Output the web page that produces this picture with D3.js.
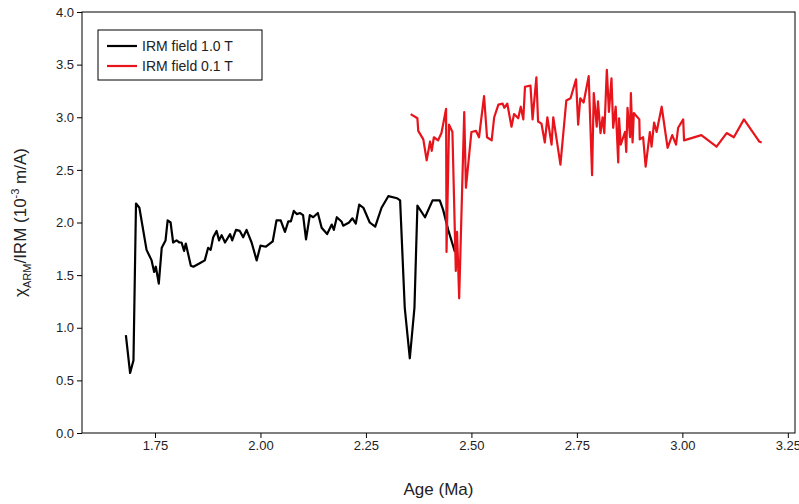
<!DOCTYPE html>
<html><head><meta charset="utf-8">
<script src="https://cdn.jsdelivr.net/npm/d3@7"></script>
<style>body{margin:0;background:#fff;font-family:"Liberation Sans",Arial,sans-serif}</style>
</head><body><svg id="c" width="799" height="504"></svg>
<script>
// black series: IRM field 1.0 T
var ageHigh = [1.681,1.691,1.699,1.705,1.713,1.730,1.742,1.748,1.752,1.759,1.766,1.775,1.780,1.787,1.793,1.801,1.808,1.813,1.819,1.823,1.835,1.841,1.855,1.868,1.876,1.882,1.888,1.896,1.902,1.908,1.916,1.928,1.933,1.942,1.951,1.959,1.967,1.979,1.991,2.000,2.013,2.029,2.038,2.048,2.058,2.066,2.072,2.079,2.086,2.094,2.101,2.108,2.117,2.125,2.136,2.145,2.158,2.169,2.174,2.181,2.192,2.196,2.210,2.218,2.226,2.234,2.244,2.259,2.272,2.287,2.303,2.324,2.331,2.342,2.354,2.365,2.372,2.390,2.408,2.425,2.433,2.445,2.461];
var valHigh = [0.93,0.57,0.69,2.18,2.14,1.74,1.64,1.53,1.58,1.42,1.76,1.83,2.02,2.00,1.81,1.83,1.81,1.81,1.73,1.80,1.59,1.58,1.61,1.64,1.76,1.74,1.86,1.92,1.83,1.88,1.81,1.89,1.83,1.93,1.92,1.86,1.93,1.81,1.64,1.78,1.77,1.82,2.02,2.02,1.91,2.01,2.01,2.11,2.08,2.09,2.07,1.84,2.07,2.05,2.09,1.95,1.89,1.98,1.93,2.05,2.01,1.97,2.00,2.04,1.99,2.17,2.14,2.00,1.96,2.14,2.25,2.23,2.21,1.19,0.71,1.19,2.16,2.05,2.21,2.21,2.12,1.93,1.72];

// red series: IRM field 0.1 T
var ageLow = [2.356,2.372,2.374,2.386,2.394,2.402,2.406,2.411,2.421,2.429,2.440,2.441,2.447,2.455,2.463,2.466,2.471,2.483,2.487,2.500,2.511,2.518,2.530,2.537,2.548,2.554,2.564,2.574,2.578,2.585,2.595,2.601,2.611,2.617,2.623,2.627,2.640,2.645,2.654,2.658,2.666,2.674,2.680,2.690,2.694,2.702,2.711,2.725,2.735,2.748,2.753,2.758,2.766,2.778,2.786,2.790,2.797,2.800,2.806,2.811,2.815,2.821,2.826,2.832,2.836,2.842,2.848,2.850,2.854,2.864,2.867,2.870,2.876,2.878,2.882,2.885,2.898,2.899,2.907,2.913,2.923,2.927,2.933,2.939,2.951,2.965,2.976,2.985,2.990,3.002,3.004,3.045,3.081,3.105,3.122,3.146,3.182,3.188];
var valLow = [3.03,2.99,2.87,2.79,2.59,2.77,2.68,2.81,2.78,2.85,3.08,1.72,2.93,2.86,1.54,1.91,1.28,3.05,2.33,2.86,2.87,2.81,3.20,2.81,2.78,3.00,3.12,3.13,3.09,3.13,2.91,3.03,2.99,3.10,2.98,3.29,3.30,2.98,3.38,2.96,2.94,2.76,3.00,2.74,3.00,2.79,2.55,3.16,3.18,3.36,2.93,3.18,3.14,3.39,2.45,3.23,2.91,3.15,2.85,3.00,2.85,3.45,3.05,3.37,2.90,3.10,2.57,2.99,2.74,2.86,2.67,3.09,2.81,3.23,2.76,3.04,2.98,2.79,2.81,2.53,2.86,2.72,2.95,2.86,3.10,2.71,2.83,2.74,2.90,2.98,2.78,2.83,2.72,2.85,2.81,2.98,2.77,2.76];

var xTicks = [1.75,2.00,2.25,2.50,2.75,3.00,3.25];
var yTicks = [0,0.5,1,1.5,2,2.5,3,3.5,4];

var svg = d3.select("#c");
var mL = 82, mR = 795, mT = 12, mB = 433;

var x = d3.scaleLinear().domain([1.577, 3.267]).range([mL, mR]);
var y = d3.scaleLinear().domain([0, 4]).range([mB, mT]);

// axes
var xAxis = svg.append("g").attr("transform", "translate(0," + mB + ")")
  .call(d3.axisBottom(x).tickValues(xTicks).tickFormat(d3.format(".2f")).tickSizeOuter(0).tickSize(5));
var yAxis = svg.append("g").attr("transform", "translate(" + mL + ",0)")
  .call(d3.axisLeft(y).tickValues(yTicks).tickFormat(d3.format(".1f")).tickSizeOuter(0).tickSize(5));
[xAxis, yAxis].forEach(function(a) {
  a.selectAll("text").attr("font-size", 13).attr("font-family", "Liberation Sans, Arial").attr("fill", "#222");
  a.select(".domain").remove();
});
svg.append("rect").attr("x", mL).attr("y", mT).attr("width", mR - mL).attr("height", mB - mT)
  .attr("fill", "none").attr("stroke", "#000");

// lines
var line = d3.line().x(function(d) { return x(d[0]); }).y(function(d) { return y(d[1]); });
svg.append("path").datum(d3.zip(ageHigh, valHigh)).attr("d", line)
  .attr("fill", "none").attr("stroke", "#000").attr("stroke-width", 2.2).attr("stroke-linejoin", "round");
svg.append("path").datum(d3.zip(ageLow, valLow)).attr("d", line)
  .attr("fill", "none").attr("stroke", "#e8141c").attr("stroke-width", 2.2).attr("stroke-linejoin", "round");

// titles
svg.append("text").attr("x", (mL + mR) / 2).attr("y", 495).attr("text-anchor", "middle")
  .attr("font-size", 17).attr("fill", "#222").text("Age (Ma)");
var yt = svg.append("text").attr("transform", "translate(26," + (mT + mB) / 2 + ") rotate(-90)")
  .attr("text-anchor", "middle").attr("font-size", 17).attr("fill", "#222");
yt.append("tspan").text("χ");
yt.append("tspan").attr("font-size", 11).attr("dy", 5).text("ARM");
yt.append("tspan").attr("dy", -5).text("/IRM (10");
yt.append("tspan").attr("font-size", 11).attr("dy", -7).text("-3");
yt.append("tspan").attr("dy", 7).text(" m/A)");

// legend
var lg = svg.append("g");
lg.append("rect").attr("x", 98).attr("y", 30).attr("width", 164).attr("height", 50)
  .attr("fill", "#fff").attr("stroke", "#000");
[["IRM field 1.0 T", "#000"], ["IRM field 0.1 T", "#e8141c"]].forEach(function(e, i) {
  var yy = 46 + i * 20;
  lg.append("line").attr("x1", 107).attr("x2", 137).attr("y1", yy).attr("y2", yy)
    .attr("stroke", e[1]).attr("stroke-width", 2.2);
  lg.append("text").attr("x", 142).attr("y", yy + 5).attr("font-size", 14).attr("fill", "#222").text(e[0]);
});
</script></body></html>
